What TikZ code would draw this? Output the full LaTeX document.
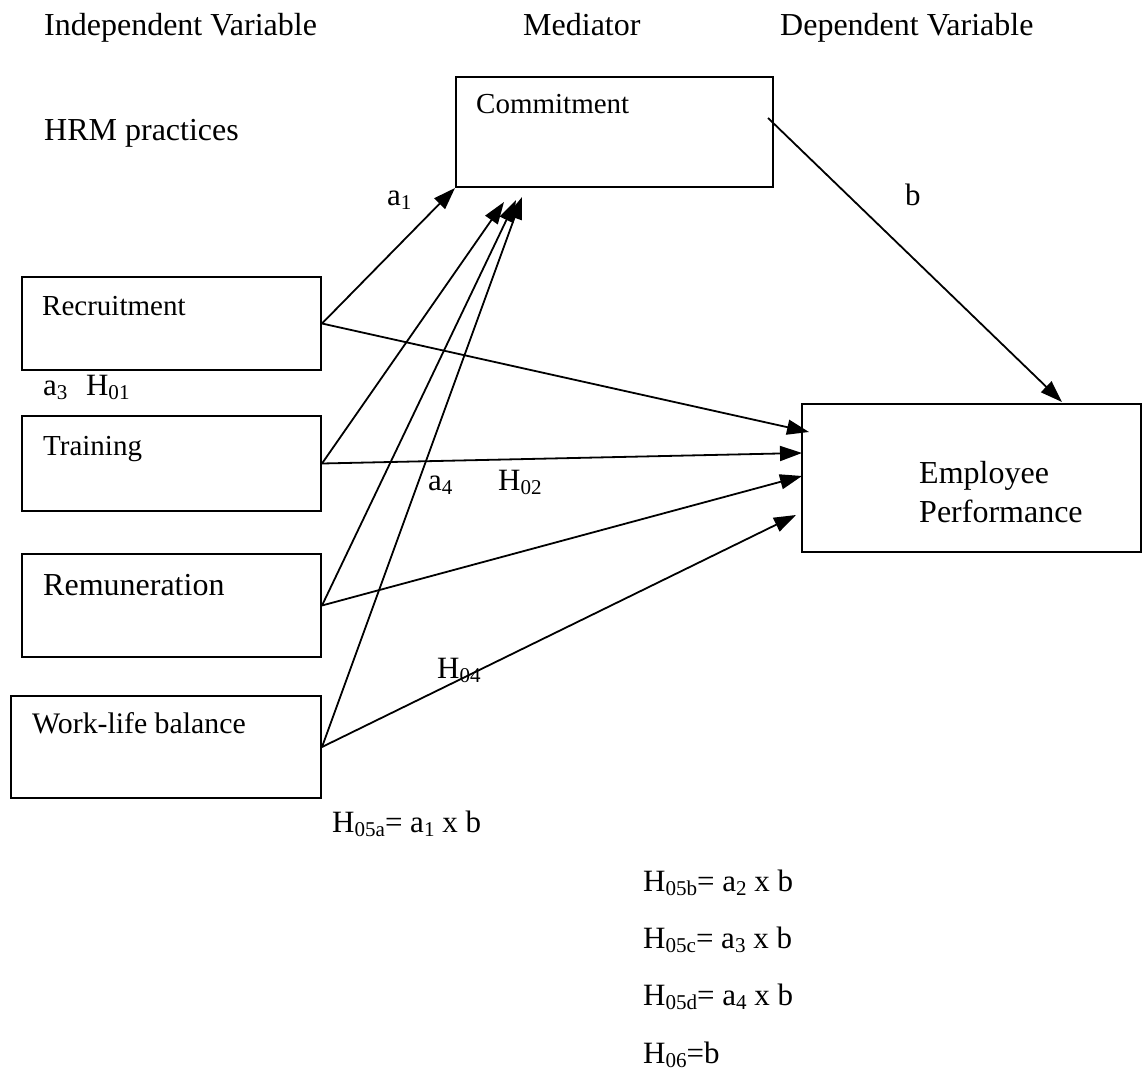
\documentclass[tikz,border=0pt]{standalone}
\usepackage{fontspec}
\setmainfont{Liberation Serif}
\usetikzlibrary{arrows.meta}
\newcommand{\sbs}[1]{\raisebox{-0.15em}{\scalebox{0.68}{#1}}}
\tikzset{
  box/.style={draw, line width=2pt, inner sep=0pt},
  txt/.style={anchor=base west, inner sep=0pt, font=\fontsize{31}{38}\selectfont},
  head/.style={txt, font=\fontsize{32}{38}\selectfont},
  boxtxt/.style={txt, font=\fontsize{29}{35}\selectfont},
  link/.style={line width=1.8pt, -{Triangle[length=22pt,width=15pt]}},
}
\begin{document}
\begin{tikzpicture}[x=1pt,y=-1pt]
      \useasboundingbox (0,0) rectangle (1143,1073);
      \draw
        (614.5,132) node[box, minimum width=317pt, minimum height=110pt] (com){}
        (171.5,323.5) node[box, minimum width=299pt, minimum height=93pt] (rec){}
        (171.5,463.5) node[box, minimum width=299pt, minimum height=95pt] (trn){}
        (171.5,605.5) node[box, minimum width=299pt, minimum height=103pt] (rem){}
        (166,747) node[box, minimum width=310pt, minimum height=102pt] (wlb){}
        (971.5,478) node[box, minimum width=339pt, minimum height=148pt] (emp){};
      \path
        (44,36) node[head] (iv){Independent Variable}
        (523,36) node[head] (med){Mediator}
        (780,36) node[head] (dv){Dependent Variable}
        (44,140) node[head] (hrm){HRM practices}
        (476,113) node[boxtxt] (comt){Commitment}
        (42,315) node[boxtxt] (rect){Recruitment}
        (43,455) node[boxtxt] (trnt){Training}
        (43,595) node[txt, font=\fontsize{32}{38}\selectfont] (remt){Remuneration}
        (32,733) node[txt, font=\fontsize{29.8}{36}\selectfont] (wlbt){Work-life balance}
        (919,483) node[head] (empt){Employee}
        (919,522) node[head] (empt2){Performance};
      % connector ends
      \coordinate (c2) at (504,202);
      \coordinate (c3) at (516,200);
      \coordinate (c4) at (522,197);
      \coordinate (e1) at (809,432);
      \coordinate (e2) at (802,453);
      \coordinate (e3) at (802,476);
      \coordinate (e4) at (796,515);
      \coordinate (bs) at (768,118);
      \coordinate (bt) at (1062,402);
      \begin{scope}[link]
        \draw (rec.east) to (com.south west);
        \draw (trn.east) to (c2);
        \draw (rem.east) to (c3);
        \draw (wlb.east) to (c4);
        \draw (rec.east) to (e1);
        \draw (trn.east) to (e2);
        \draw (rem.east) to (e3);
        \draw (wlb.east) to (e4);
        \draw (bs) to (bt);
      \end{scope}
      \path
        (387,205) node[txt] (la1){a\sbs{1}}
        (905,205) node[txt] (lb){b}
        (43,395) node[txt] (la3){a\sbs{3}\hspace{0.6em}H\sbs{01}}
        (428,490) node[txt] (la4){a\sbs{4}}
        (498,490) node[txt] (lh2){H\sbs{02}}
        (437,678) node[txt] (lh4){H\sbs{04}}
        (332,832) node[txt] (f1){H\sbs{05a}= a\sbs{1} x b}
        (643,891) node[txt] (f2){H\sbs{05b}= a\sbs{2} x b}
        (643,948) node[txt] (f3){H\sbs{05c}= a\sbs{3} x b}
        (643,1005) node[txt] (f4){H\sbs{05d}= a\sbs{4} x b}
        (643,1063) node[txt] (f5){H\sbs{06}=b};
    \end{tikzpicture}
\end{document}
